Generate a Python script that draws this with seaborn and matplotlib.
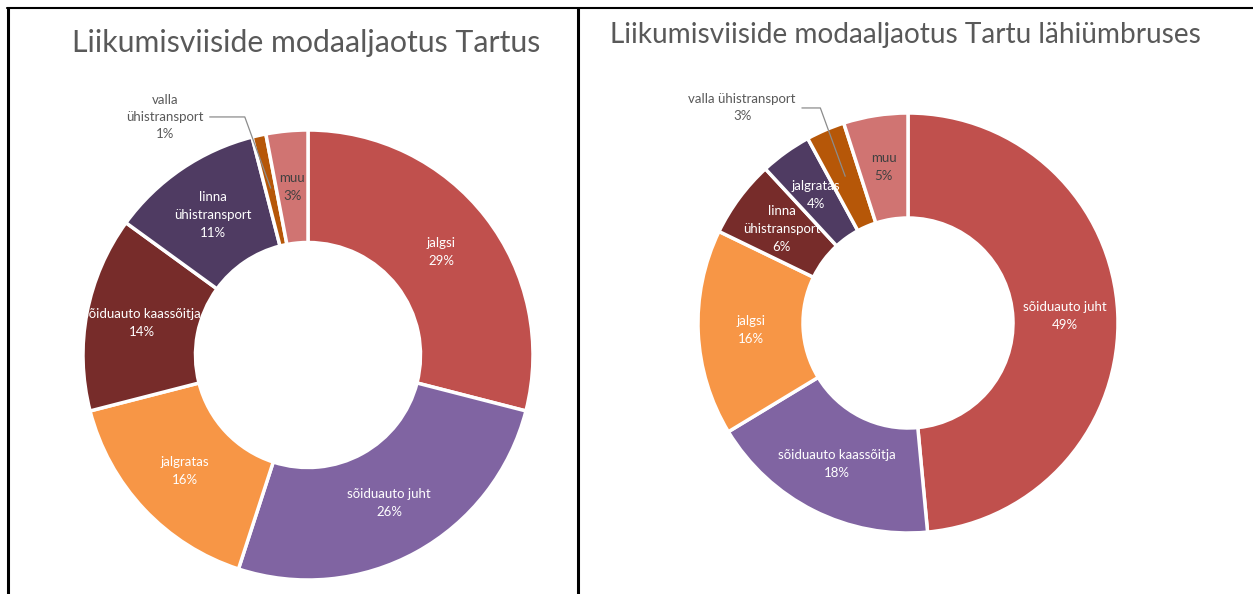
import numpy as np
import matplotlib.pyplot as plt
import seaborn as sns
from matplotlib.lines import Line2D

sns.set_style("white")
plt.rcParams['font.family'] = ['Lato', 'DejaVu Sans']

# data
left_title = "Liikumisviiside modaaljaotus Tartus"
left_labels = ["jalgsi", "sõiduauto juht", "jalgratas", "sõiduauto kaassõitja",
               "linna\nühistransport", "valla\nühistransport", "muu"]
left_values = [29, 26, 16, 14, 11, 1, 3]

right_title = "Liikumisviiside modaaljaotus Tartu lähiümbruses"
right_labels = ["sõiduauto juht", "sõiduauto kaassõitja", "jalgsi",
                "linna\nühistransport", "jalgratas", "valla ühistransport", "muu"]
right_values = [49, 18, 16, 6, 4, 3, 5]

palette = sns.color_palette(["#C0504D", "#8064A2", "#F79646", "#772C2A",
                             "#4F3B62", "#B65708", "#D07472"])
text_colors = ["white"] * 6 + ["#404040"]

W, H = 1253, 594
fig = plt.figure(figsize=(W / 100, H / 100), dpi=100)


def px_axes(cx, cy, r):
    # cx, cy from top-left in pixels
    return fig.add_axes([(cx - r) / W, (H - cy - r) / H, 2 * r / W, 2 * r / H])


def donut(ax, values, labels, outside_idx, outside_xy, outside_text):
    wedges, _ = ax.pie(values, colors=palette, startangle=90, counterclock=False,
                       radius=1, wedgeprops=dict(width=0.5, edgecolor="white",
                                                 linewidth=2.5))
    ax.set_xlim(-1, 1)
    ax.set_ylim(-1, 1)
    ax.set_aspect("equal")
    ax.axis("off")
    for i, (w, lab, v) in enumerate(zip(wedges, labels, values)):
        ang = np.deg2rad((w.theta1 + w.theta2) / 2)
        if i == outside_idx:
            ax.annotate(outside_text, xy=(0.76 * np.cos(ang), 0.76 * np.sin(ang)),
                        xytext=outside_xy, ha="center", va="center",
                        fontsize=9.5, color="#595959", linespacing=1.5,
                        annotation_clip=False,
                        arrowprops=dict(arrowstyle="-", color="#8C8C8C", lw=0.9,
                                        shrinkA=2, shrinkB=0,
                                        connectionstyle="angle,angleA=0,angleB=-70,rad=0"))
            continue
        t = ax.text(0.75 * np.cos(ang), 0.75 * np.sin(ang), f"{lab}\n{v}%",
                    ha="center", va="center", fontsize=9.5,
                    color=text_colors[i], linespacing=1.6)
        t.set_clip_path(w)


ax1 = px_axes(308, 355, 225)
donut(ax1, left_values, left_labels, 5, (-0.636, 1.058),
      "valla\nühistransport\n1%")
ax2 = px_axes(908, 323, 210)
donut(ax2, right_values, right_labels, 5, (-0.79, 1.024),
      "valla ühistransport\n3%")

fig.text(306 / W, 1 - 43 / H, left_title, ha="center", va="center",
         fontsize=21.8, color="#595959")
fig.text(905 / W, 1 - 35 / H, right_title, ha="center", va="center",
         fontsize=20.2, color="#595959")

# table borders
fig.add_artist(Line2D([7 / W, 1], [1 - 8 / H, 1 - 8 / H], color="black", lw=1.5))
fig.add_artist(Line2D([7.5 / W, 7.5 / W], [0, 1 - 8 / H], color="black", lw=2.2))
fig.add_artist(Line2D([578 / W, 578 / W], [0, 1 - 8 / H], color="black", lw=2.2))

fig.savefig("out.png", dpi=100, facecolor="white")
